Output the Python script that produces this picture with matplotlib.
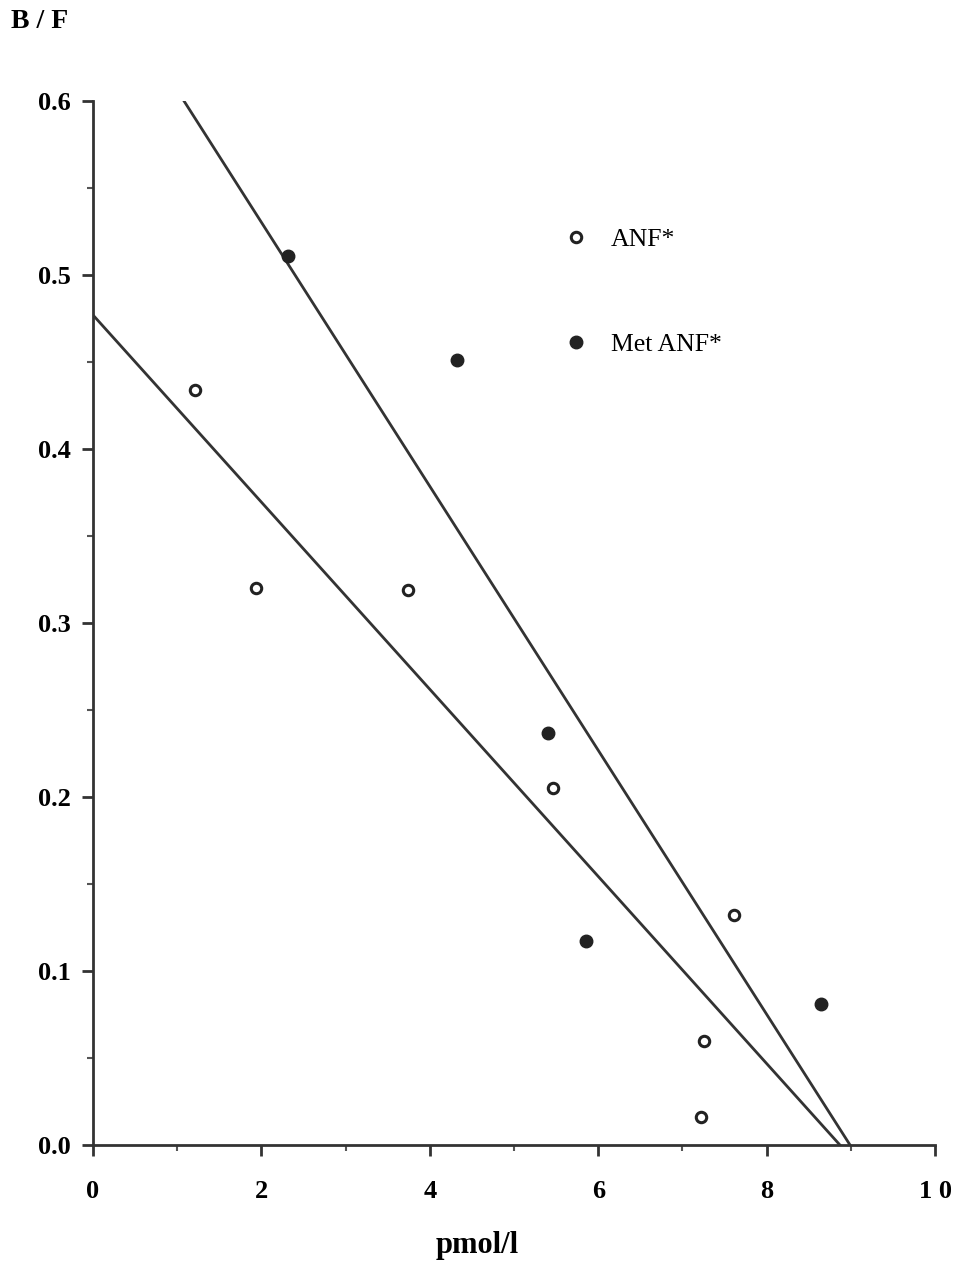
import matplotlib.pyplot as plt
import numpy as np
from matplotlib.ticker import MultipleLocator

# ANF* (open circles)
anf_x = [1.21, 1.94, 3.74, 5.46, 7.61, 7.26, 7.22]
anf_y = [0.434, 0.320, 0.319, 0.205, 0.132, 0.060, 0.016]

# Met ANF* (filled circles)
met_x = [2.32, 4.32, 5.40, 5.86, 8.65]
met_y = [0.511, 0.451, 0.237, 0.117, 0.081]

# fitted lines: y-intercept and x-intercept
anf_fit = [0.477, 8.87]
met_fit = [0.682, 8.99]

x_ticks = [0, 2, 4, 6, 8, 10]
y_ticks = [0.0, 0.1, 0.2, 0.3, 0.4, 0.5, 0.6]

plt.rcParams["font.family"] = ["Liberation Serif", "DejaVu Serif"]

fig = plt.figure(figsize=(9.61, 12.79), dpi=100)
ax = fig.add_axes([0.0968, 0.1048, 0.8762, 0.8162])

# Scatchard lines
for b0, xint in [anf_fit, met_fit]:
    xs = np.array([0, xint])
    ys = b0 - b0 / xint * xs
    ax.plot(xs, ys, color="#333333", linewidth=2, clip_on=True, zorder=2)

ax.plot(anf_x, anf_y, "o", markersize=7.5, markerfacecolor="white",
        markeredgecolor="#222222", markeredgewidth=2.2, linestyle="none",
        label="ANF*", zorder=3, clip_on=False)
ax.plot(met_x, met_y, "o", markersize=9, color="#222222", linestyle="none",
        label="Met ANF*", zorder=3, clip_on=False)

ax.set_xlim(0, 10)
ax.set_ylim(0, 0.6)

for side in ["top", "right"]:
    ax.spines[side].set_visible(False)
for side in ["left", "bottom"]:
    ax.spines[side].set_linewidth(2)
    ax.spines[side].set_color("#333333")

ax.set_xticks(x_ticks)
ax.set_yticks(y_ticks)
ax.set_xticklabels([str(t) if t < 10 else "1 0" for t in x_ticks])
ax.set_yticklabels([f"{t:.1f}" for t in y_ticks])
ax.xaxis.set_minor_locator(MultipleLocator(1))
ax.yaxis.set_minor_locator(MultipleLocator(0.05))
ax.tick_params(which="major", direction="out", length=8, width=2,
               color="#333333", labelsize=19)
ax.tick_params(which="minor", direction="out", length=4, width=1.5,
               color="#555555")
ax.tick_params(axis="x", pad=17)
ax.tick_params(axis="y", pad=8)
for lab in ax.get_xticklabels() + ax.get_yticklabels():
    lab.set_fontweight("bold")

fig.text(0.011, 0.983, "B / F", fontsize=20, fontweight="bold", ha="left", va="center")
fig.text(0.497, 0.026, "pmol/l", fontsize=22, fontweight="bold", ha="center", va="center")

ax.legend(frameon=False, loc="upper left", bbox_to_anchor=(0.531, 0.901),
          labelspacing=3.2, handletextpad=0.85, fontsize=18.5, handlelength=1)

fig.savefig("out.png", dpi=100)
